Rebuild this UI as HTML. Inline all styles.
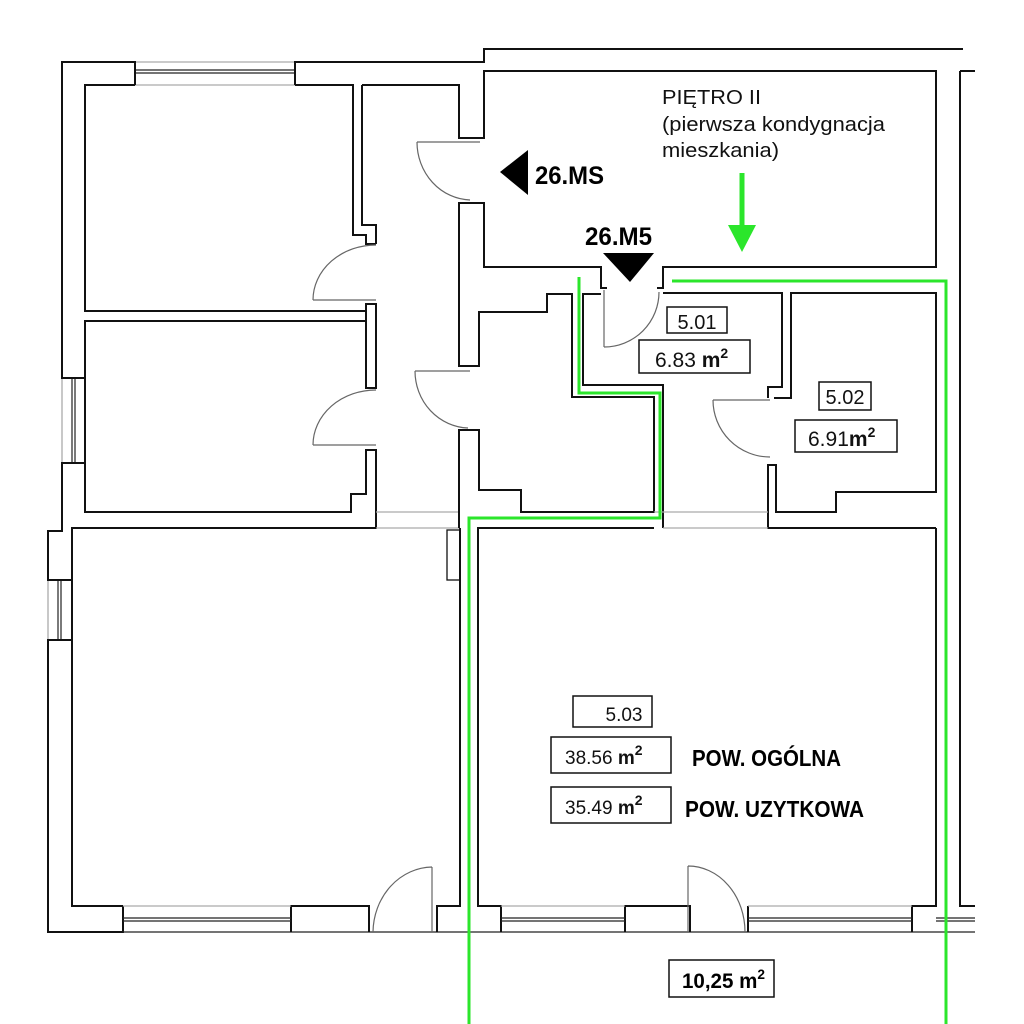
<!DOCTYPE html>
<html><head><meta charset="utf-8"><style>
html,body{margin:0;padding:0;background:#fff}
svg{display:block}
.w{fill:none;stroke:#111;stroke-width:2}
.g{fill:none;stroke:#aaa;stroke-width:1.3}
.t{fill:none;stroke:#222;stroke-width:1.2}
.d{fill:none;stroke:#666;stroke-width:1.2}
.gr{fill:none;stroke:#2be62b;stroke-width:3}
.lab{font-family:"Liberation Sans",sans-serif;fill:#111}
.bx{fill:#fff;stroke:#111;stroke-width:1.5}
.bn{font-family:"Liberation Sans Narrow","Liberation Sans",sans-serif;font-weight:bold;fill:#000}
</style></head><body>
<svg width="1024" height="1024" viewBox="0 0 1024 1024" xmlns="http://www.w3.org/2000/svg">
<line class="g" x1="135" y1="62" x2="295" y2="62"/>
<line class="t" x1="135" y1="70" x2="295" y2="70"/>
<line class="t" x1="135" y1="73" x2="295" y2="73"/>
<line class="g" x1="135" y1="85" x2="295" y2="85"/>
<line class="g" x1="62" y1="378" x2="62" y2="463"/>
<line class="t" x1="72" y1="378" x2="72" y2="463"/>
<line class="t" x1="75" y1="378" x2="75" y2="463"/>
<line class="g" x1="85" y1="378" x2="85" y2="463"/>
<line class="g" x1="48" y1="580" x2="48" y2="640"/>
<line class="t" x1="58" y1="580" x2="58" y2="640"/>
<line class="t" x1="61" y1="580" x2="61" y2="640"/>
<line class="g" x1="72" y1="580" x2="72" y2="640"/>
<path class="w" d="M135,85 V62 H62 V378 H85 V321"/>
<path class="w" d="M295,85 V62 H484 V49 H963"/>
<path class="w" d="M85,463 H62 V531 H48 V580 H72"/>
<path class="w" d="M72,640 H48 V932 H123 V906"/>
<line class="t" x1="123" y1="932" x2="975" y2="932"/>
<path class="w" d="M135,85 H85 V311 H366"/>
<path class="w" d="M295,85 H353 V235 H366 V244 H376"/>
<path class="w" d="M362,85 V225 H376 V244"/>
<path class="w" d="M366,304 H376 V388 H366 Z"/>
<path class="w" d="M366,321 H85 V463"/>
<path class="w" d="M85,463 V512 H351 V494 H366 V450 H376 V528 H72 V906 H123"/>
<line class="g" x1="376" y1="512" x2="459" y2="512"/>
<line class="g" x1="376" y1="528" x2="460" y2="528"/>
<path class="w" d="M362,85 H459 V138 H484 V71 H936 V267 H663 V288 H657"/>
<path class="w" d="M607,288 H601 V267 H484 V203 H459 V366 H479 V312 H547 V294 H572 V397 H654 V512 H521 V490 H479 V430 H459 V528"/>
<path class="w" d="M960,71 H975"/>
<path class="w" d="M960,71 V906 H975"/>
<path class="w" d="M601,294 H583 V385 H663 V528"/>
<path class="w" d="M663,293 H782 V387 H768 V398"/>
<path class="w" d="M774,398 H791 V293 H936 V492 H836 V512 H776 V465 H768 V528 H936"/>
<line class="g" x1="654" y1="512" x2="768" y2="512"/>
<line class="g" x1="663" y1="528" x2="768" y2="528"/>
<path class="w" d="M460,528 V906 H437 V932"/>
<rect x="447" y="530" width="13" height="50" class="w" style="stroke-width:1.3"/>
<path class="w" d="M291,932 V906 H369 V932"/>
<line class="g" x1="123" y1="906" x2="291" y2="906"/>
<line class="t" x1="123" y1="918" x2="291" y2="918"/>
<line class="t" x1="123" y1="921" x2="291" y2="921"/>
<path class="w" d="M654,528 H478 V906 H501 V932"/>
<path class="w" d="M936,528 V906 H912 V932"/>
<path class="w" d="M625,932 V906 H690 V932"/>
<path class="w" d="M748,932 V906"/>
<line class="g" x1="501" y1="906" x2="625" y2="906"/>
<line class="t" x1="501" y1="918" x2="625" y2="918"/>
<line class="t" x1="501" y1="921" x2="625" y2="921"/>
<line class="g" x1="748" y1="906" x2="912" y2="906"/>
<line class="t" x1="748" y1="918" x2="912" y2="918"/>
<line class="t" x1="748" y1="921" x2="912" y2="921"/>
<line class="t" x1="975" y1="918" x2="936" y2="918"/>
<line class="t" x1="975" y1="921" x2="936" y2="921"/>
<path class="d" d="M417,142 H480 M417,142 A55,58 0 0 0 470,200"/>
<path class="d" d="M313,300 H376 M313,300 A63,55 0 0 1 376,245"/>
<path class="d" d="M313,445 H376 M313,445 A63,55 0 0 1 376,390"/>
<path class="d" d="M415,371 H470 M415,371 A55,57 0 0 0 468,428"/>
<path class="d" d="M604,290 V347 M604,347 A55,55 0 0 0 659,292"/>
<path class="d" d="M713,400 H770 M713,400 A57,57 0 0 0 770,457"/>
<path class="d" d="M432,867 V932 M432,867 A60,66 0 0 0 373,932"/>
<path class="d" d="M688,866 V932 M688,866 A57,66 0 0 1 745,932"/>
<polyline class="gr" points="579,277 579,393 660,393 660,518 469,518 469,1024"/>
<polyline class="gr" points="672,281 946,281 946,1024"/>
<line x1="742" y1="173" x2="742" y2="228" stroke="#2be62b" stroke-width="5"/>
<polygon points="728,225 756,225 742,252" fill="#2be62b"/>
<polygon points="500,172 528,150 528,195" fill="#000"/>
<polygon points="603,253 654,253 630,282" fill="#000"/>
<text class="bn" x="535" y="184" font-size="25" textLength="69" lengthAdjust="spacingAndGlyphs">26.MS</text>
<text class="bn" x="585" y="245" font-size="25" textLength="67" lengthAdjust="spacingAndGlyphs">26.M5</text>
<text class="lab" x="662" y="104" font-size="20" textLength="99" lengthAdjust="spacingAndGlyphs">PIĘTRO II</text>
<text class="lab" x="662" y="131" font-size="20" textLength="223" lengthAdjust="spacingAndGlyphs">(pierwsza kondygnacja</text>
<text class="lab" x="662" y="157" font-size="20" textLength="117" lengthAdjust="spacingAndGlyphs">mieszkania)</text>
<rect class="bx" x="667" y="307" width="60" height="26"/>
<text class="lab" x="697" y="329" font-size="20" text-anchor="middle">5.01</text>
<rect class="bx" x="639" y="340" width="111" height="33"/>
<text class="lab" x="655" y="367" font-size="21">6.83 <tspan font-weight="bold">m</tspan><tspan font-weight="bold" font-size="14" dy="-9">2</tspan></text>
<rect class="bx" x="819" y="382" width="52" height="28"/>
<text class="lab" x="845" y="404" font-size="20" text-anchor="middle">5.02</text>
<rect class="bx" x="795" y="420" width="102" height="32"/>
<text class="lab" x="808" y="446" font-size="21">6.91<tspan font-weight="bold">m</tspan><tspan font-weight="bold" font-size="14" dy="-9">2</tspan></text>
<rect class="bx" x="573" y="696" width="79" height="31"/>
<text class="lab" x="624" y="721" font-size="19" text-anchor="middle">5.03</text>
<rect class="bx" x="551" y="737" width="120" height="36"/>
<text class="lab" x="565" y="764" font-size="19">38.56 <tspan font-weight="bold">m</tspan><tspan font-weight="bold" font-size="14" dy="-9">2</tspan></text>
<rect class="bx" x="551" y="787" width="120" height="36"/>
<text class="lab" x="565" y="814" font-size="19">35.49 <tspan font-weight="bold">m</tspan><tspan font-weight="bold" font-size="14" dy="-9">2</tspan></text>
<text class="bn" x="692" y="766" font-size="23" textLength="149" lengthAdjust="spacingAndGlyphs">POW. OGÓLNA</text>
<text class="bn" x="685" y="817" font-size="23" textLength="179" lengthAdjust="spacingAndGlyphs">POW. UZYTKOWA</text>
<rect class="bx" x="669" y="960" width="105" height="37"/>
<text class="bn" x="682" y="988" font-size="21" textLength="83" lengthAdjust="spacingAndGlyphs">10,25 m<tspan font-size="14" dy="-9">2</tspan></text>
</svg>
</body></html>
